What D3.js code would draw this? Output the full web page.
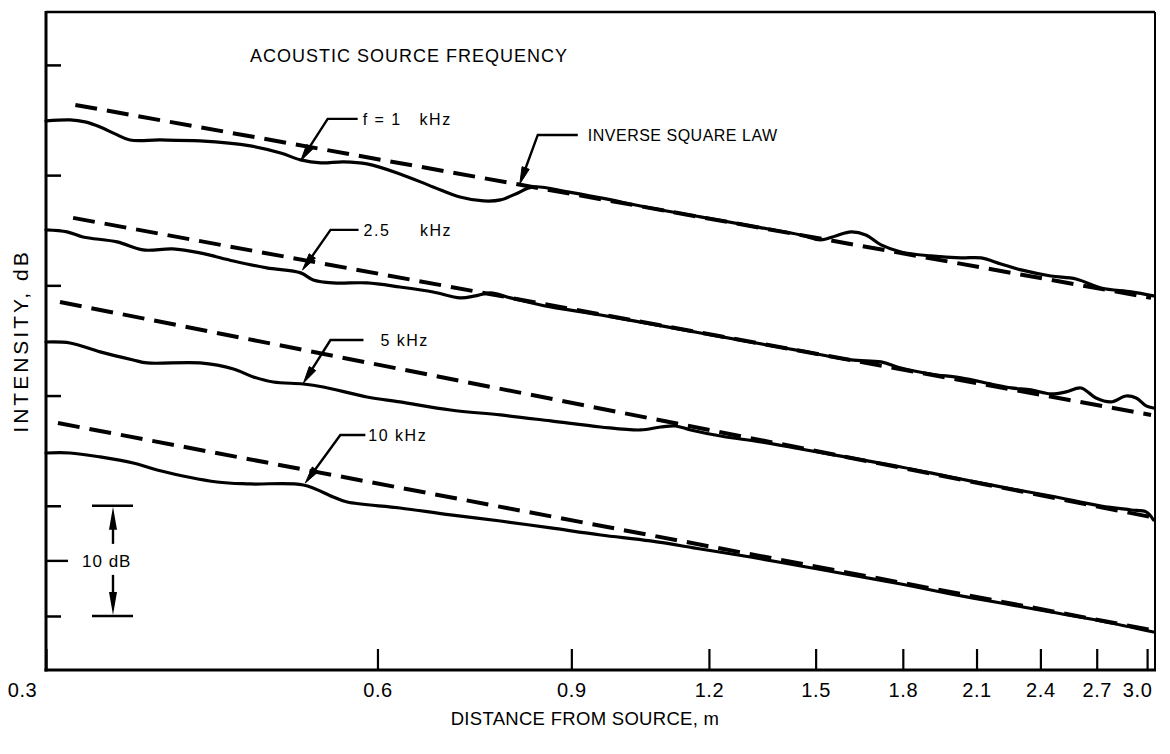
<!DOCTYPE html>
<html>
<head>
<meta charset="utf-8">
<script src="https://cdn.jsdelivr.net/npm/d3@7"></script>
<style>
  html, body { margin: 0; padding: 0; background: #fff; }
  svg { display: block; }
  text { font-family: "Liberation Sans", Arial, Helvetica, sans-serif; fill: #000; }
</style>
</head>
<body>
<svg id="chart" width="1170" height="754"></svg>
<script>
// ---------------- DATA ----------------
const distanceTicks = [0.3, 0.6, 0.9, 1.2, 1.5, 1.8, 2.1, 2.4, 2.7, 3.0];
const distanceTickLabels = ["0.3", "0.6", "0.9", "1.2", "1.5", "1.8", "2.1", "2.4", "2.7", "3.0"];
const intensityTicks = [0, 10, 20, 30, 40, 50]; // relative dB

// measured intensity (relative dB) vs distance (m)
const measured1kHz = [
  [0.300, 44.92], [0.3155, 45.01], [0.3255, 44.83], [0.336, 44.37], [0.3466, 43.74], [0.3576, 43.19],
  [0.381, 43.19], [0.414, 43.10], [0.460, 42.65], [0.490, 42.01], [0.511, 41.38], [0.533, 41.11],
  [0.559, 41.20], [0.587, 41.02], [0.629, 40.11], [0.674, 38.93], [0.713, 38.02], [0.749, 37.66],
  [0.776, 37.75], [0.801, 38.29], [0.831, 38.93], [0.893, 38.48], [0.957, 37.93], [1.062, 37.02],
  [1.179, 36.21], [1.309, 35.39], [1.454, 34.57], [1.516, 34.12], [1.564, 34.48], [1.615, 34.85],
  [1.666, 34.57], [1.720, 33.67], [1.793, 33.03], [1.909, 32.67], [2.032, 32.49], [2.120, 32.49],
  [2.210, 31.94], [2.305, 31.40], [2.453, 30.85], [2.586, 30.58], [2.725, 29.76], [2.902, 29.40],
  [3.04, 29.04]
];
const measured2500Hz = [
  [0.300, 35.03], [0.3135, 34.85], [0.3241, 34.39], [0.3481, 33.94], [0.3675, 33.21], [0.391, 33.30],
  [0.414, 32.94], [0.444, 32.21], [0.476, 31.58], [0.511, 31.13], [0.5246, 30.49], [0.547, 30.22],
  [0.587, 30.22], [0.629, 29.85], [0.674, 29.40], [0.713, 28.86], [0.7364, 29.04], [0.7598, 29.31],
  [0.7923, 28.86], [0.862, 28.04], [0.957, 27.31], [1.062, 26.50], [1.179, 25.68], [1.309, 24.86],
  [1.454, 24.05], [1.615, 23.23], [1.720, 23.05], [1.793, 22.50], [1.909, 21.96], [2.032, 21.60],
  [2.165, 21.05], [2.257, 20.69], [2.353, 20.51], [2.453, 20.15], [2.532, 20.33], [2.613, 20.69],
  [2.696, 19.78], [2.782, 19.42], [2.871, 19.96], [2.932, 19.78], [2.994, 19.06], [3.04, 18.87]
];
const measured5kHz = [
  [0.300, 24.86], [0.3155, 24.77], [0.336, 23.96], [0.360, 23.23], [0.3707, 22.96], [0.414, 22.96],
  [0.444, 22.41], [0.4628, 21.69], [0.4826, 21.23], [0.5138, 21.05], [0.5357, 20.78], [0.587, 19.87],
  [0.629, 19.42], [0.699, 18.69], [0.776, 18.24], [0.862, 17.70], [0.957, 17.15], [1.040, 16.88],
  [1.0845, 17.15], [1.119, 17.24], [1.155, 16.88], [1.230, 16.33], [1.338, 15.79], [1.454, 15.15],
  [1.615, 14.34], [1.793, 13.52], [1.990, 12.61], [2.210, 11.71], [2.453, 10.89], [2.725, 9.98],
  [2.902, 9.62], [2.994, 9.44], [3.04, 8.71]
];
const measured10kHz = [
  [0.300, 14.79], [0.3155, 14.79], [0.336, 14.43], [0.360, 13.88], [0.3785, 13.25], [0.429, 12.16],
  [0.460, 11.98], [0.5138, 11.89], [0.547, 10.80], [0.5633, 10.34], [0.629, 9.80], [0.699, 9.17],
  [0.776, 8.62], [0.862, 7.99], [0.957, 7.35], [1.062, 6.81], [1.179, 6.08], [1.309, 5.35],
  [1.454, 4.54], [1.615, 3.72], [1.793, 2.90], [1.990, 2.00], [2.210, 1.18], [2.453, 0.36],
  [2.725, -0.45], [3.04, -1.45]
];

// inverse square law reference lines (end points, relative dB)
const inverseSquare1kHz = [[0.319, 46.37], [3.025, 28.86]];
const inverseSquare2500Hz = [[0.3175, 36.12], [3.025, 18.24]];
const inverseSquare5kHz = [[0.3089, 28.49], [3.025, 8.98]];
const inverseSquare10kHz = [[0.3076, 17.51], [3.025, -1.27]];

const curveLabels = ["f = 1   kHz", "2.5     kHz", "5 kHz", "10 kHz"];
const curveLabelAnchors = [[0.511, 41.29], [0.513, 31.40], [0.514, 21.14], [0.516, 12.07]];
const lawLabel = "INVERSE SQUARE LAW";
const lawLabelAnchor = [0.808, 39.20];
const titleText = "ACOUSTIC SOURCE FREQUENCY";
const xTitle = "DISTANCE FROM SOURCE, m";
const yTitle = "INTENSITY, dB";
const scaleBarDb = [0, 10];
const scaleBarLabel = "10 dB";

// ---------------- LAYOUT ----------------
const svg = d3.select("#chart");
const frame = { left: 46, right: 1155, top: 12, bottom: 670 };

const x = d3.scaleLog().domain([0.3, 3.05]).range([frame.left, frame.right]);
const y = d3.scaleLinear().domain([-4.9, 54.8]).range([frame.bottom, frame.top]);

const line = d3.line()
  .x(d => x(d[0]))
  .y(d => y(d[1]))
  .curve(d3.curveCatmullRom.alpha(0.5));

// measured curves
[measured1kHz, measured2500Hz, measured5kHz, measured10kHz].forEach(series => {
  svg.append("path")
    .datum(series)
    .attr("d", line)
    .attr("fill", "none")
    .attr("stroke", "#000")
    .attr("stroke-width", 3.2)
    .attr("stroke-linejoin", "round")
    .attr("stroke-linecap", "round");
});

// inverse-square dashed lines
const straight = d3.line().x(d => x(d[0])).y(d => y(d[1]));
[inverseSquare1kHz, inverseSquare2500Hz, inverseSquare5kHz, inverseSquare10kHz].forEach(series => {
  svg.append("path")
    .datum(series)
    .attr("d", straight)
    .attr("fill", "none")
    .attr("stroke", "#000")
    .attr("stroke-width", 4)
    .attr("stroke-dasharray", "22 10");
});

// frame
svg.append("line").attr("x1", frame.left).attr("x2", frame.right).attr("y1", frame.top).attr("y2", frame.top)
  .attr("stroke", "#000").attr("stroke-width", 2.5);
svg.append("line").attr("x1", frame.right).attr("x2", frame.right).attr("y1", frame.top).attr("y2", frame.bottom)
  .attr("stroke", "#000").attr("stroke-width", 2);

// x axis
const labelShift = { 0: -24, 9: -10 };
const xAxis = d3.axisBottom(x)
  .tickValues(distanceTicks)
  .tickFormat((d, i) => distanceTickLabels[i])
  .tickSizeInner(-21)
  .tickSizeOuter(0)
  .tickPadding(13);
const gx = svg.append("g").attr("transform", `translate(0,${frame.bottom})`).call(xAxis);
gx.select(".domain").remove();
gx.selectAll(".tick line").attr("stroke", "#000").attr("stroke-width", 2.2);
gx.selectAll(".tick text")
  .attr("font-size", 20)
  .attr("letter-spacing", 0.6)
  .attr("font-family", "Liberation Sans, Arial, sans-serif")
  .attr("fill", "#000")
  .attr("dx", (d, i) => labelShift[i] || 0);

// y axis (ticks only, pointing inward)
const yAxis = d3.axisLeft(y).tickValues(intensityTicks).tickFormat("").tickSizeInner(-15).tickSizeOuter(0);
const gy = svg.append("g").attr("transform", `translate(${frame.left},0)`).call(yAxis);
gy.select(".domain").remove();
gy.selectAll(".tick line").attr("stroke", "#000").attr("stroke-width", 2.5);

// axis lines (thick)
svg.append("line").attr("x1", frame.left).attr("x2", frame.left).attr("y1", frame.top - 1).attr("y2", frame.bottom + 1.5)
  .attr("stroke", "#000").attr("stroke-width", 3);
svg.append("line").attr("x1", frame.left - 1.5).attr("x2", frame.right + 1).attr("y1", frame.bottom).attr("y2", frame.bottom)
  .attr("stroke", "#000").attr("stroke-width", 3);

// axis titles
svg.append("text").attr("x", 585).attr("y", 725).attr("text-anchor", "middle")
  .attr("font-size", 18.5).attr("letter-spacing", 0.3).text(xTitle);
svg.append("text").attr("transform", "translate(28,341) rotate(-90)").attr("text-anchor", "middle")
  .attr("font-size", 21).attr("letter-spacing", 3).text(yTitle);

// title
svg.append("text").attr("x", 250).attr("y", 62).attr("font-size", 18).attr("letter-spacing", 1.0).text(titleText);

// arrow helper
function arrowCallout(anchor, elbowDx, elbowDy, endDx, textDx, label, size, spacing) {
  const tx = x(anchor[0]), ty = y(anchor[1]);
  const ex = tx + elbowDx, ey = ty + elbowDy;
  const dx = tx - ex, dy = ty - ey, len = Math.hypot(dx, dy);
  const ux = dx / len, uy = dy / len, nx = -uy, ny = ux;
  const headLen = 17, headW = 3.8;
  const bx = tx - ux * headLen, by = ty - uy * headLen;
  svg.append("path")
    .attr("d", `M${tx + endDx},${ey}H${ex}L${bx + ux * 4},${by + uy * 4}`)
    .attr("fill", "none").attr("stroke", "#000").attr("stroke-width", 2.4);
  svg.append("path")
    .attr("d", `M${tx},${ty}L${bx + nx * headW},${by + ny * headW}L${bx - nx * headW},${by - ny * headW}Z`)
    .attr("fill", "#000").attr("stroke", "#000").attr("stroke-width", 1);
  svg.append("text").attr("x", tx + textDx).attr("y", ey).attr("dy", "0.36em")
    .attr("font-size", size).attr("letter-spacing", spacing).style("white-space", "pre").text(label);
}

arrowCallout(curveLabelAnchors[0], 27, -42, 57, 62, curveLabels[0], 16, 1.5);
arrowCallout(curveLabelAnchors[1], 28, -40, 56, 61, curveLabels[1], 16, 1.5);
arrowCallout(curveLabelAnchors[2], 27, -43, 60, 77, curveLabels[2], 16, 1.5);
arrowCallout(curveLabelAnchors[3], 35, -48, 60, 63, curveLabels[3], 16, 1.5);
arrowCallout(lawLabelAnchor, 18, -49, 58, 68, lawLabel, 16, 0.5);

// 10 dB scale bar
const barX1 = 92, barX2 = 133, barMid = 113;
const yTop = y(scaleBarDb[1]), yBot = y(scaleBarDb[0]), yMid = y((scaleBarDb[0] + scaleBarDb[1]) / 2);
[yTop, yBot].forEach(v => svg.append("line").attr("x1", barX1).attr("x2", barX2).attr("y1", v).attr("y2", v)
  .attr("stroke", "#000").attr("stroke-width", 2.4));
svg.append("line").attr("x1", barMid).attr("x2", barMid).attr("y1", yTop + 18).attr("y2", yMid - 17)
  .attr("stroke", "#000").attr("stroke-width", 2.4);
svg.append("line").attr("x1", barMid).attr("x2", barMid).attr("y1", yMid + 14).attr("y2", yBot - 18)
  .attr("stroke", "#000").attr("stroke-width", 2.4);
svg.append("path").attr("d", `M${barMid},${yTop + 1}L${barMid - 4},${yTop + 24}L${barMid + 4},${yTop + 24}Z`).attr("fill", "#000");
svg.append("path").attr("d", `M${barMid},${yBot - 1}L${barMid - 4},${yBot - 24}L${barMid + 4},${yBot - 24}Z`).attr("fill", "#000");
svg.append("line").attr("x1", frame.left).attr("x2", frame.left + 22).attr("y1", yMid).attr("y2", yMid)
  .attr("stroke", "#000").attr("stroke-width", 2.4);
svg.append("text").attr("x", 82).attr("y", yMid).attr("dy", "0.36em").attr("font-size", 17).attr("letter-spacing", 1).text(scaleBarLabel);
</script>
</body>
</html>
